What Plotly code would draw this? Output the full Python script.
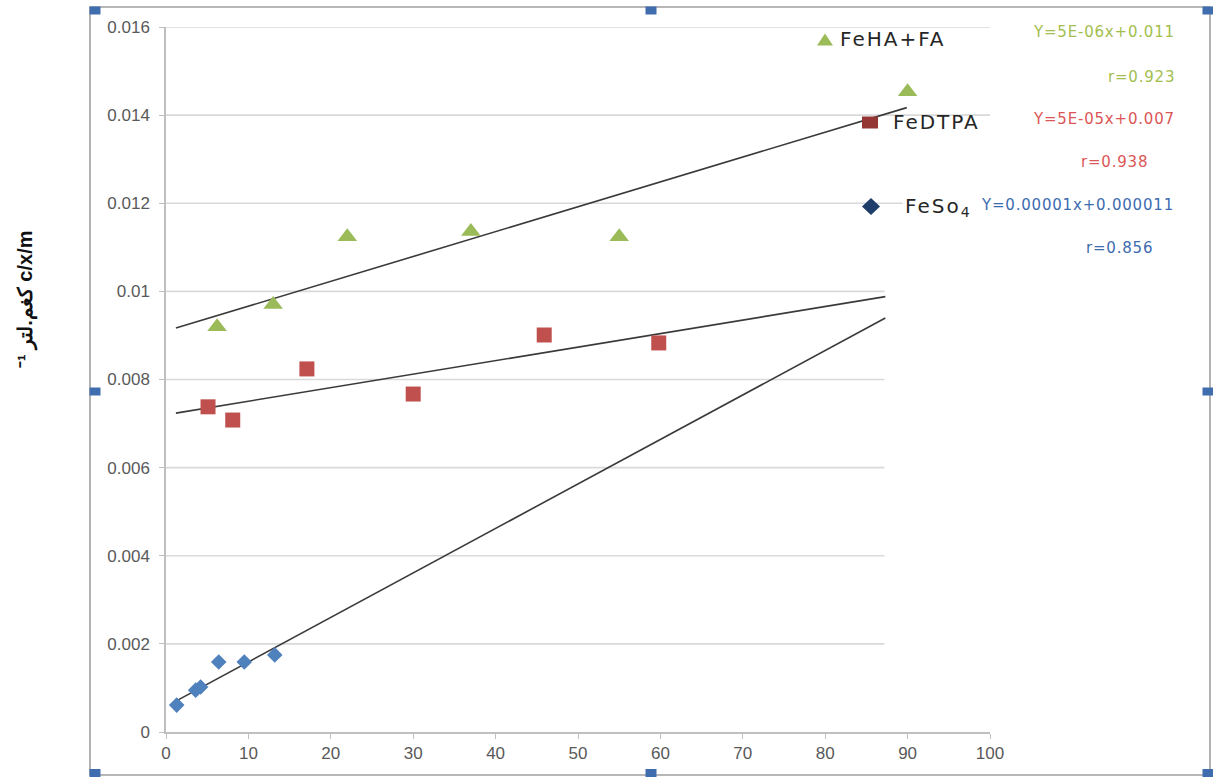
import plotly.graph_objects as go

# --- measured series -------------------------------------------------------
fe_ha_fa_x = [6.2, 13.0, 22.0, 37.0, 55.0, 90.0]
fe_ha_fa_y = [0.00920, 0.00970, 0.01124, 0.01136, 0.01124, 0.01453]

fe_dtpa_x = [5.1, 8.1, 17.1, 30.0, 45.9, 59.8]
fe_dtpa_y = [0.00738, 0.00708, 0.00824, 0.00767, 0.00901, 0.00883]

fe_so4_x = [1.3, 3.6, 4.2, 6.4, 9.5, 13.2]
fe_so4_y = [0.00061, 0.00095, 0.00102, 0.00159, 0.00159, 0.00175]

# linear trend lines: slope, intercept and x-extent for each series
trend_slope = [5.64e-5, 3.07e-5, 1.01e-4]
trend_intercept = [0.00910, 0.00720, 0.00058]
trend_x_start = [1.2, 1.2, 1.2]
trend_x_end = [89.9, 87.3, 87.3]

# axis ticks
x_ticks = [0, 10, 20, 30, 40, 50, 60, 70, 80, 90, 100]
y_ticks = [0, 0.002, 0.004, 0.006, 0.008, 0.010, 0.012, 0.014, 0.016]
y_tick_text = ["0", "0.002", "0.004", "0.006", "0.008", "0.01", "0.012", "0.014", "0.016"]

# equation / correlation labels
eq_text = ["Y=5E-06x+0.011", "Y=5E-05x+0.007", "Y=0.00001x+0.000011"]
r_text = ["r=0.923", "r=0.938", "r=0.856"]
series_names = ["FeHA+FA", "FeDTPA", "FeSo<sub>4</sub>"]

# --- geometry of the figure (pixels) ---------------------------------------
W, H = 1213, 783
PL, PR, PT, PB = 166, 990, 27, 732


def px(x):
    return (x - PL) / (PR - PL)


def py(y):
    return (PB - y) / (PB - PT)


GREEN, RED, BLUE = "#9BBB59", "#C0504D", "#4F81BD"
TREND = "#3a3a3a"
GRID = "#d9d9d9"

fig = go.Figure()

# trend lines
for k in range(3):
    xs = [trend_x_start[k], trend_x_end[k]]
    ys = [trend_intercept[k] + trend_slope[k] * v for v in xs]
    fig.add_trace(go.Scatter(x=xs, y=ys, mode="lines",
                             line=dict(color=TREND, width=1.6),
                             showlegend=False, hoverinfo="skip"))

fig.add_trace(go.Scatter(x=fe_ha_fa_x, y=fe_ha_fa_y, mode="markers", name="FeHA+FA",
                         marker=dict(symbol="triangle-up", size=17, color=GREEN),
                         showlegend=False, cliponaxis=False))
fig.add_trace(go.Scatter(x=fe_dtpa_x, y=fe_dtpa_y, mode="markers", name="FeDTPA",
                         marker=dict(symbol="square", size=15, color=RED),
                         showlegend=False, cliponaxis=False))
fig.add_trace(go.Scatter(x=fe_so4_x, y=fe_so4_y, mode="markers", name="FeSo4",
                         marker=dict(symbol="diamond", size=12, color=BLUE),
                         showlegend=False, cliponaxis=False))

shapes = []

# horizontal gridlines (the upper ones run further right, under the key)
grid_ends = {0.016: 100, 0.014: 100, 0.012: 89.4}
for v in y_ticks[1:]:
    shapes.append(dict(type="line", xref="x", yref="y", x0=0, x1=grid_ends.get(v, 87.2),
                       y0=v, y1=v, line=dict(color=GRID, width=1.6), layer="below"))

# outer frame with selection handles
shapes.append(dict(type="rect", xref="paper", yref="paper",
                   x0=px(90), x1=px(1210), y0=py(775), y1=py(7),
                   line=dict(color="#a0a0a0", width=1.6)))
for hx in (95, 651, 1208):
    for hy in (10.5, 391.5, 773):
        if hx == 651 and hy == 391.5:
            continue
        shapes.append(dict(type="rect", xref="paper", yref="paper",
                           x0=px(hx - 5.5), x1=px(hx + 5.5), y0=py(hy + 4), y1=py(hy - 4),
                           fillcolor="#3F6DAE", line=dict(width=0)))


def tri(cx, cy, w, h, color):
    p = f"M {px(cx - w / 2)},{py(cy + h / 2)} L {px(cx + w / 2)},{py(cy + h / 2)} L {px(cx)},{py(cy - h / 2)} Z"
    return dict(type="path", xref="paper", yref="paper", path=p, fillcolor=color, line=dict(width=0))


def sq(cx, cy, w, h, color):
    return dict(type="rect", xref="paper", yref="paper", x0=px(cx - w / 2), x1=px(cx + w / 2),
                y0=py(cy + h / 2), y1=py(cy - h / 2), fillcolor=color, line=dict(width=0))


def dia(cx, cy, w, h, color):
    p = (f"M {px(cx - w / 2)},{py(cy)} L {px(cx)},{py(cy - h / 2)} L {px(cx + w / 2)},{py(cy)} "
         f"L {px(cx)},{py(cy + h / 2)} Z")
    return dict(type="path", xref="paper", yref="paper", path=p, fillcolor=color, line=dict(width=0))


# key symbols
shapes.append(tri(825, 39.5, 16, 12, GREEN))
shapes.append(sq(870, 122.5, 16, 12, "#943634"))
shapes.append(dia(871, 206.5, 18, 17, "#1F3D6B"))

ann = []
key_font = dict(family="DejaVu Sans", size=20, color="#262626")
for name, x0, y0 in zip(series_names, (838, 891, 903), (39, 122, 207)):
    ann.append(dict(xref="paper", yref="paper", x=px(x0), y=py(y0), xanchor="left", yanchor="middle",
                    text=f'<span style="letter-spacing:2px">{name}</span>', showarrow=False, font=key_font))

eq_colors = ["#A3BE4E", "#DB5656", "#3C6BB0"]
eq_pos = [(1177, 32), (1177, 119), (1176, 205)]
r_pos = [(1177, 77), (1150, 162), (1155, 248)]
for k in range(3):
    f = dict(family="DejaVu Sans", size=15, color=eq_colors[k])
    ann.append(dict(xref="paper", yref="paper", x=px(eq_pos[k][0]), y=py(eq_pos[k][1]),
                    xanchor="right", yanchor="middle", showarrow=False, font=f,
                    text=f'<span style="letter-spacing:0.8px">{eq_text[k]}</span>'))
    ann.append(dict(xref="paper", yref="paper", x=px(r_pos[k][0]), y=py(r_pos[k][1]),
                    xanchor="right", yanchor="middle", showarrow=False, font=f,
                    text=f'<span style="letter-spacing:0.8px">{r_text[k]}</span>'))

# y-axis title
ann.append(dict(xref="paper", yref="paper", x=px(26), y=py(300), xanchor="center", yanchor="middle",
                textangle=-90, showarrow=False,
                text="<b>⁻¹ كغم.لتر c/x/m</b>",
                font=dict(family="Liberation Sans", size=20, color="#111111")))

tick_font = dict(family="Liberation Sans", size=17, color="#595959")

fig.update_layout(
    width=W, height=H,
    margin=dict(l=PL, r=W - PR, t=PT, b=H - PB),
    paper_bgcolor="white", plot_bgcolor="white",
    showlegend=False,
    shapes=shapes, annotations=ann,
    xaxis=dict(range=[0, 100], tickvals=x_ticks, showgrid=False, zeroline=False,
               showline=True, linecolor="#bfbfbf", linewidth=1.5,
               ticks="outside", ticklen=5, tickcolor="#bfbfbf", tickfont=tick_font),
    yaxis=dict(range=[0, 0.016], tickvals=y_ticks, ticktext=y_tick_text, showgrid=False,
               zeroline=False, showline=True, linecolor="#bfbfbf", linewidth=1.5,
               ticks="outside", ticklen=5, tickcolor="#bfbfbf", tickfont=tick_font,
               ticklabelstandoff=6),
)

fig.write_html("out.html")
